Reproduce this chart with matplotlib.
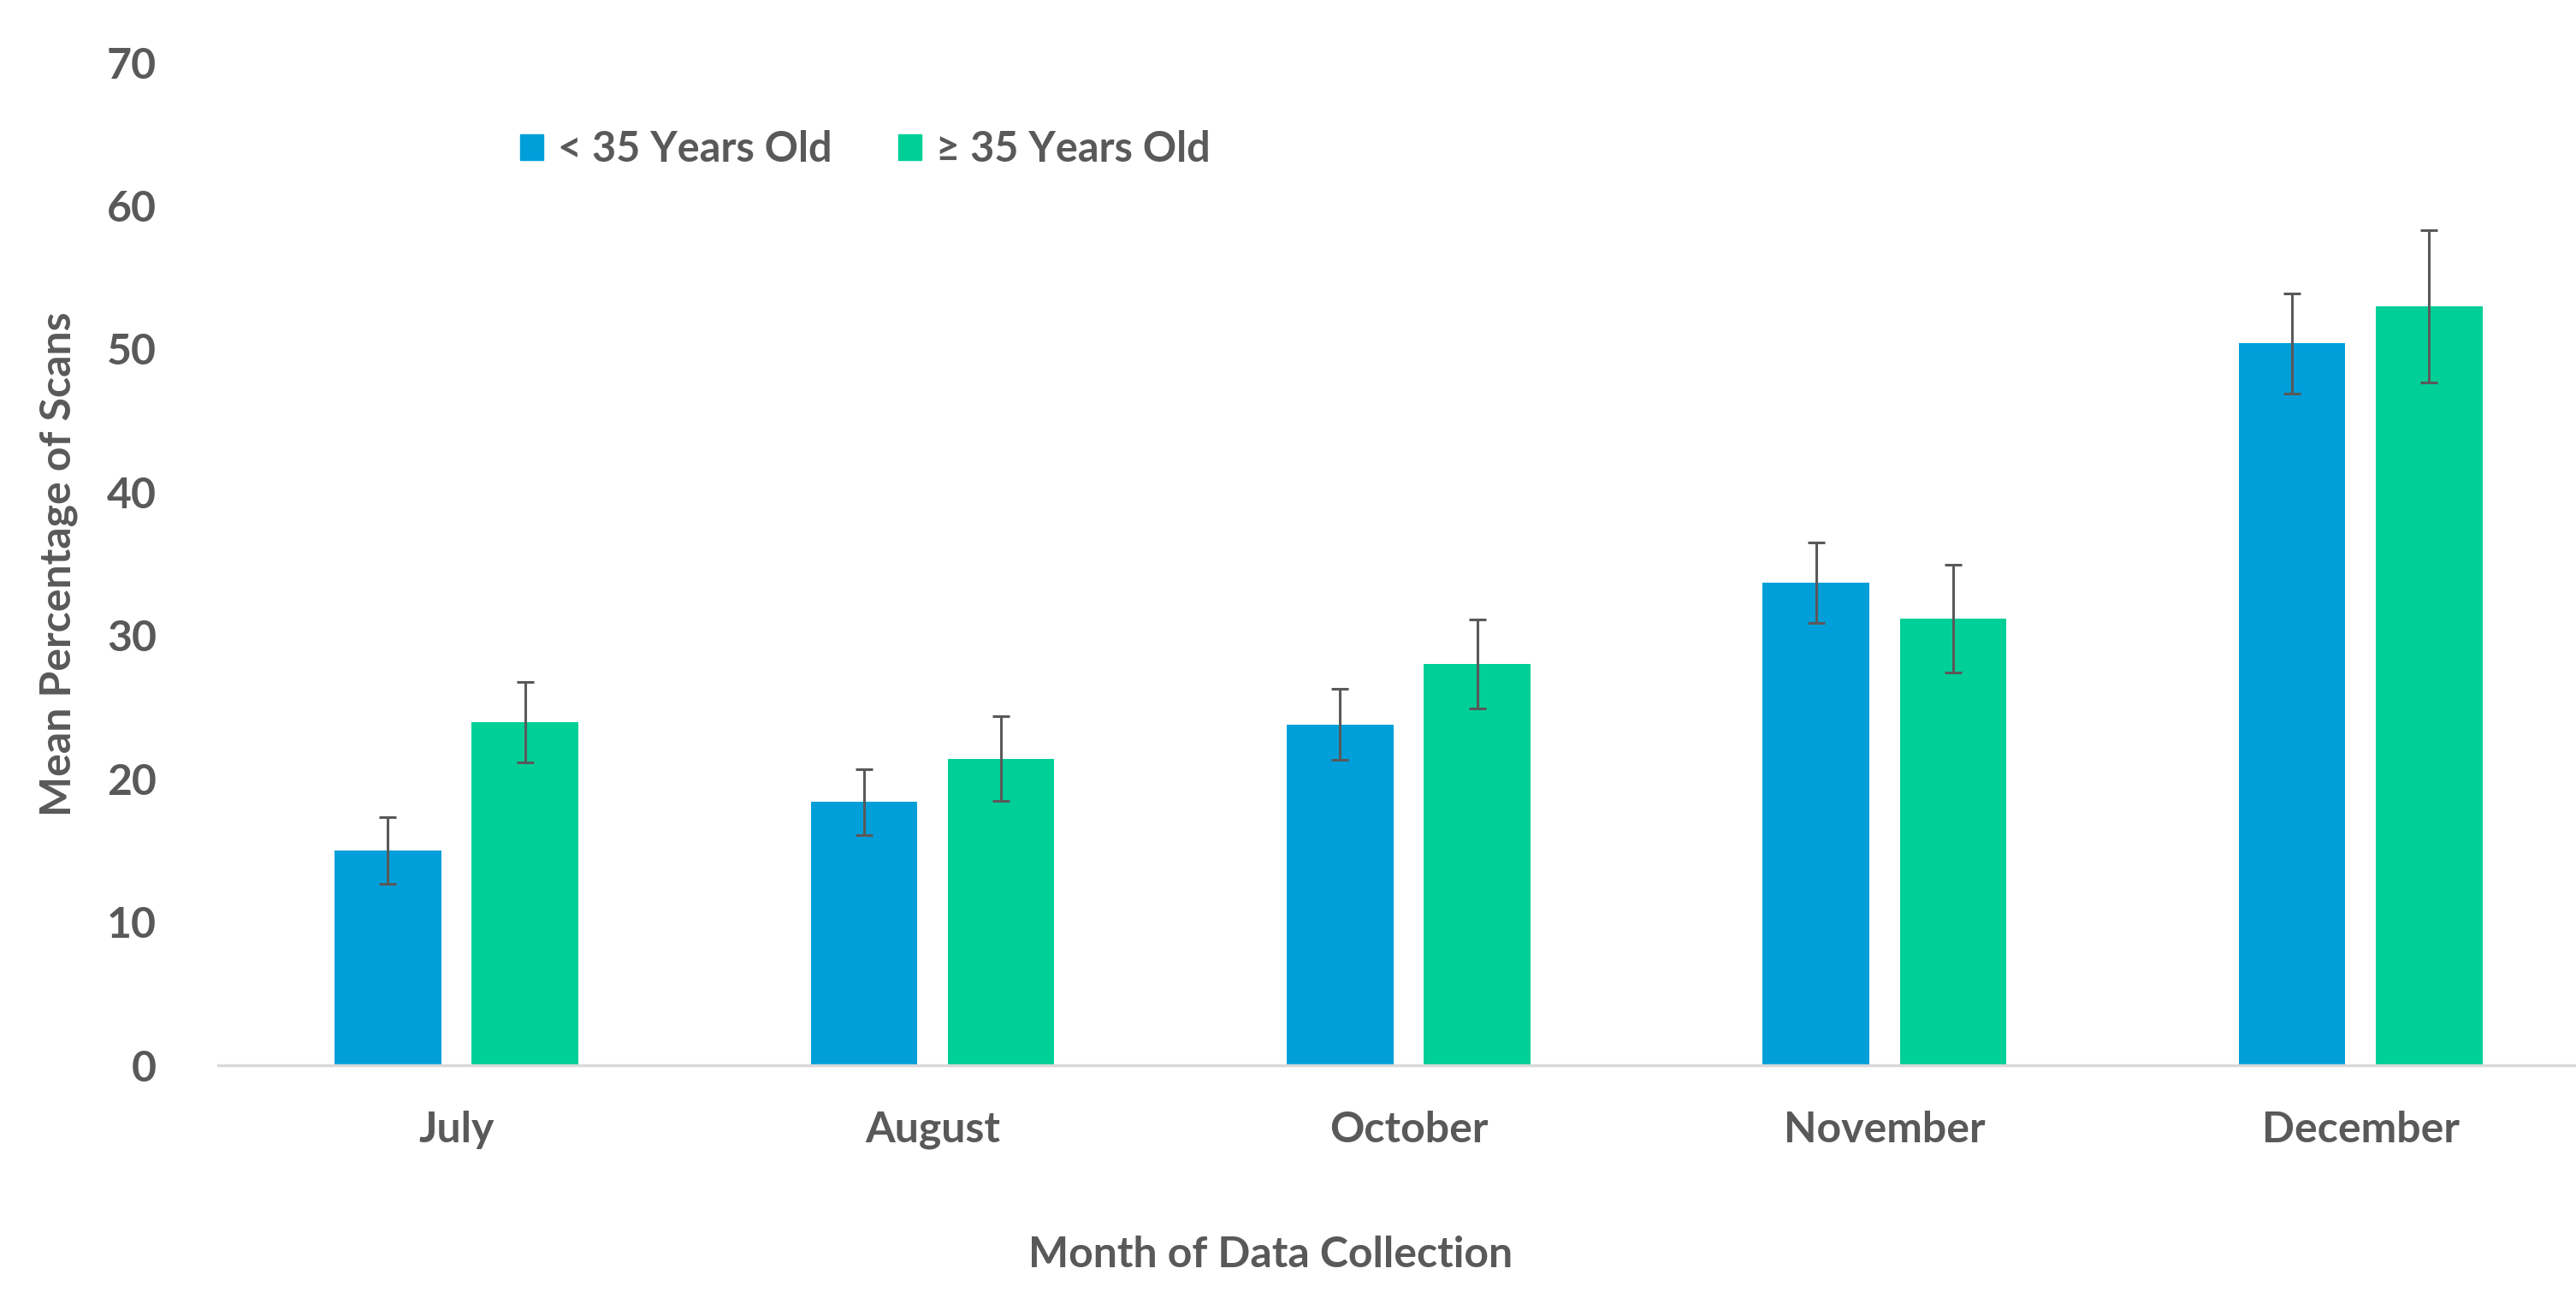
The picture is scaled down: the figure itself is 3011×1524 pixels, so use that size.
import numpy as np
import matplotlib
matplotlib.use("Agg")
import matplotlib.pyplot as plt
from matplotlib.patches import Patch

# data
months = ["July", "August", "October", "November", "December"]
under35 = [15.0, 18.4, 23.8, 33.7, 50.4]
under35_err = [2.35, 2.3, 2.5, 2.8, 3.5]
over35 = [23.95, 21.4, 28.0, 31.2, 53.0]
over35_err = [2.8, 2.95, 3.1, 3.75, 5.3]
series_names = ["< 35 Years Old", "\u2265 35 Years Old"]

blue = "#009FDA"
green = "#00CF98"
grey = "#595959"

plt.rcParams['font.family'] = ['Lato', 'DejaVu Sans']
plt.rcParams['font.weight'] = 'bold'

fig = plt.figure(figsize=(30.11, 15.24), dpi=100)
ax = fig.add_axes([0.0848, 0.183, 0.924, 0.769])

x = np.arange(len(months))
w = 0.224
off = 0.144
ekw = dict(ecolor=grey, elinewidth=2.2, capsize=7, capthick=2.2)
ax.bar(x - off, under35, w, color=blue, yerr=under35_err, error_kw=ekw, zorder=2)
ax.bar(x + off, over35, w, color=green, yerr=over35_err, error_kw=ekw, zorder=2)

ax.set_xlim(-0.5, 4.5)
ax.set_ylim(0, 70)
ax.set_yticks(range(0, 71, 10))
ax.set_xticks(x)
ax.set_xticklabels(months)

for s in ["top", "right", "left"]:
    ax.spines[s].set_visible(False)
ax.spines["bottom"].set_color("#D9D9D9")
ax.spines["bottom"].set_linewidth(2.5)
ax.spines["bottom"].set_clip_on(False)

ax.tick_params(axis="both", length=0, labelsize=36, labelcolor=grey)
ax.tick_params(axis="y", pad=52)
ax.tick_params(axis="x", pad=38)

ax.set_ylabel("Mean Percentage of Scans", fontsize=36, color=grey, fontweight="bold")
ax.set_xlabel("Month of Data Collection", fontsize=36, color=grey, fontweight="bold")
ax.xaxis.set_label_coords(0.442, -0.17)
ax.yaxis.set_label_coords(-0.059, 0.5)

handles = [Patch(color=blue), Patch(color=green)]
ax.legend(handles, series_names, loc="upper left", bbox_to_anchor=(0.111, 0.97),
          ncol=2, frameon=False, fontsize=35, labelcolor=grey,
          handlelength=0.55, handleheight=0.55, handletextpad=0.35, columnspacing=1.6)

fig.savefig("out.png", dpi=100, facecolor="white")
